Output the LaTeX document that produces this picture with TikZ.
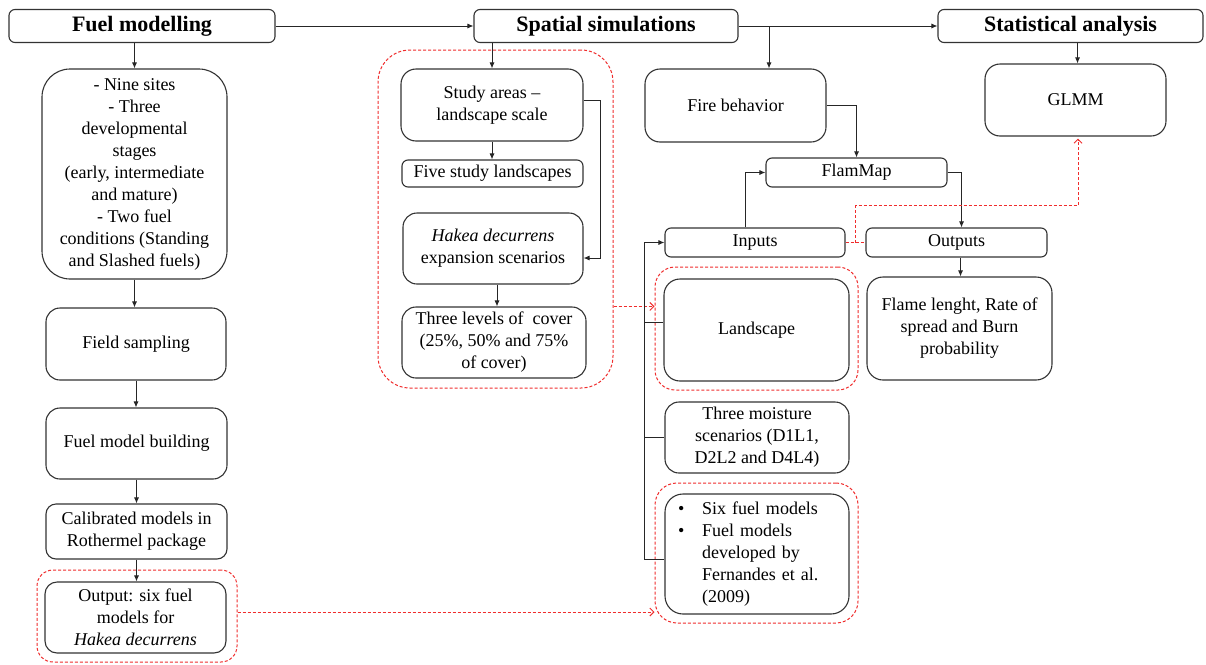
\documentclass[tikz,border=0pt]{standalone}
\usepackage{fontspec}
\setmainfont{Liberation Serif}
\usetikzlibrary{arrows.meta,calc}
\definecolor{myred}{RGB}{240,45,45}
\begin{document}
\begin{tikzpicture}[x=1pt,y=-1pt,
 box/.style={draw=black!80, line width=1.1pt, fill=white, align=center, font=\fontsize{18}{22}\selectfont, inner sep=2pt},
 hdr/.style={box, rounded corners=6pt, minimum width=265pt, minimum height=33pt, font=\bfseries\fontsize{22}{26}\selectfont},
 dbox/.style={draw=myred, line width=1pt, dash pattern=on 3pt off 2pt},
 arr/.style={draw=black!85, line width=0.9pt, -{Latex[length=6pt,width=5pt]}},
 ln/.style={draw=black!85, line width=0.9pt},
 rdash/.style={draw=myred, line width=1pt, dash pattern=on 3pt off 2pt},
 rarr/.style={rdash, -{Straight Barb[length=4pt,width=8pt]}},
]
\fill[white] (0,0) rectangle (1206,664);
\useasboundingbox (0,0) rectangle (1206,664);

% dashed groups
\node[dbox, rounded corners=16pt, minimum width=200pt, minimum height=92pt] (outdash) at (137,616) {};
\node[dbox, rounded corners=32pt, minimum width=235pt, minimum height=338pt] (bigdash) at (495.5,219) {};
\node[dbox, rounded corners=20pt, minimum width=203pt, minimum height=123pt] (landdash) at (756.5,328.5) {};
\node[dbox, rounded corners=22pt, minimum width=203pt, minimum height=140pt] (sixdash) at (756.5,553) {};

% headers
\node[hdr, minimum width=266pt] (fuel) at (142,26) {Fuel modelling};
\node[hdr, minimum width=264pt] (spatial) at (606,26) {Spatial simulations};
\node[hdr, minimum width=265pt] (stat) at (1070.5,26) {Statistical analysis};

% left column
\node[box, rounded corners=28pt, minimum width=185pt, minimum height=210pt] (nine) at (134.5,174)
 {- Nine sites\\- Three\\developmental\\stages\\(early, intermediate\\and mature)\\- Two fuel\\conditions (Standing\\and Slashed fuels)};
\node[box, rounded corners=14pt, minimum width=180pt, minimum height=72pt] (field) at (136,344) {Field sampling};
\node[box, rounded corners=14pt, minimum width=181pt, minimum height=71pt] (build) at (136.5,443.5) {Fuel model building};
\node[box, rounded corners=10pt, minimum width=181pt, minimum height=55pt] (calib) at (136.5,531.5) {Calibrated models in\\Rothermel package};
\node[box, rounded corners=12pt, minimum width=181pt, minimum height=71pt] (outp) at (135.5,617.5) {Output: six fuel\\models for\\\textit{Hakea decurrens}};

% middle column
\node[box, rounded corners=15pt, minimum width=182pt, minimum height=72pt] (study) at (492,105) {Study areas –\\landscape scale};
\node[box, rounded corners=6pt, minimum width=181pt, minimum height=27pt] (five) at (492.5,173.5) {Five study landscapes};
\node[box, rounded corners=14pt, minimum width=180pt, minimum height=71pt] (hakea) at (493,248.5) {\textit{Hakea decurrens}\\expansion scenarios};
\node[box, rounded corners=14pt, minimum width=184pt, minimum height=71pt] (three) at (494,342.5) {Three levels of\ \ cover\\(25\%, 50\% and 75\%\\of cover)};

% right area
\node[box, rounded corners=15pt, minimum width=181pt, minimum height=73pt] (fire) at (735.5,105.5) {Fire behavior};
\node[box, rounded corners=6pt, minimum width=181pt, minimum height=29pt] (flam) at (856.5,172.5) {FlamMap};
\node[box, rounded corners=6pt, minimum width=180pt, minimum height=29pt] (inputs) at (755,242.5) {Inputs};
\node[box, rounded corners=6pt, minimum width=181pt, minimum height=29pt] (outputs) at (956.5,242.5) {Outputs};
\node[box, rounded corners=16pt, minimum width=185pt, minimum height=103pt] (flame) at (959.5,328.5) {Flame lenght, Rate of\\spread and Burn\\probability};
\node[box, rounded corners=16pt, minimum width=185pt, minimum height=102pt] (land) at (756.5,330) {Landscape};
\node[box, rounded corners=14pt, minimum width=184pt, minimum height=71pt] (moist) at (757,437.5) {Three moisture\\scenarios (D1L1,\\D2L2 and D4L4)};
\node[box, rounded corners=18pt, minimum width=184pt, minimum height=120pt, align=left, text width=162pt, inner xsep=11pt] (six) at (757,554)
 {\makebox[26pt][l]{\hspace*{2pt}•}Six fuel models\\\makebox[26pt][l]{\hspace*{2pt}•}Fuel models\\\hspace*{26pt}developed by\\\hspace*{26pt}Fernandes et al.\\\hspace*{26pt}(2009)};
\node[box, rounded corners=15pt, minimum width=181pt, minimum height=72pt] (glmm) at (1075.5,100) {GLMM};

% header connectors
\draw[arr] (fuel.east) -- (spatial.west);
\draw[arr] (spatial.east) -- (stat.west);
\coordinate (br) at (769,26);
\draw[arr] (br) -- (br |- fire.north);
\draw[arr] (nine.north |- fuel.south) -- (nine.north);
\draw[arr] (study.north |- spatial.south) -- (study.north);
\draw[arr] ([xshift=2pt]glmm.north |- stat.south) -- ([xshift=2pt]glmm.north);

% left column connectors
\draw[arr] (nine.south) -- (nine.south |- field.north);
\draw[arr] (field.south) -- (field.south |- build.north);
\draw[arr] (build.south) -- (build.south |- calib.north);
\draw[arr] (calib.south) -- (calib.south |- outp.north);
\draw[rarr] ([yshift=4pt]outdash.east) -- ([yshift=4pt]outdash.east -| sixdash.west);

% middle connectors
\draw[arr] (study.south) -- (study.south |- five.north);
\draw[arr] ([xshift=4pt]hakea.south) -- ([xshift=4pt]hakea.south |- three.north);
\draw[arr] ([yshift=5pt]study.east) -- ++(17,0) |- ([yshift=-9.5pt]hakea.east);
\draw[rarr] (three.north -| bigdash.east) -- (three.north -| landdash.west);

% right connectors
\draw[arr] (fire.east) -| (flam.north);
\draw[arr] ([xshift=-10pt]inputs.north) |- (flam.west);
\draw[arr] (flam.east) -| ([xshift=5pt]outputs.north);
\draw[arr] ([xshift=4pt]outputs.south) -- ([xshift=4pt]outputs.south |- flame.north);
\draw[rdash] (inputs.east) -- (outputs.west);
\coordinate (rm) at ($(inputs.east)!0.5!(outputs.west)$);
\draw[rarr, shorten >=2pt] (rm) -- ++(0,-37) -| ([xshift=2.5pt]glmm.south);

% input bus
\coordinate (bt) at ([xshift=-20pt]inputs.west);
\coordinate (bb) at ([yshift=-5pt]bt |- six.west);
\draw[ln] (bb) -- ([yshift=-5pt]six.west);
\draw[arr] (bb) -- (bt) -- (inputs.west);
\draw[ln] ([yshift=8pt]bt |- land.west) -- ([yshift=8pt]land.west);
\draw[ln] (bt |- moist.west) -- (moist.west);
\end{tikzpicture}
\end{document}
